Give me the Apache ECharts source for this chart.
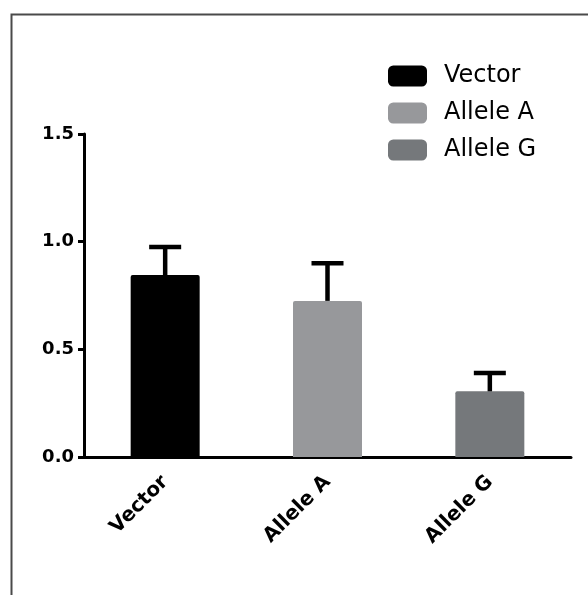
<!DOCTYPE html>
<html>
<head>
<meta charset="utf-8">
<script src="https://cdn.jsdelivr.net/npm/echarts@6/dist/echarts.min.js"></script>
<style>
html,body{margin:0;padding:0;background:#fff;}
#chart{width:588px;height:595px;}
</style>
</head>
<body>
<div id="chart"></div>
<script>
const categories = ['Vector', 'Allele A', 'Allele G'];
const seriesNames = ['Vector', 'Allele A', 'Allele G'];
const means = [0.845, 0.725, 0.305];
const errors = [0.13, 0.175, 0.085];
const yTicks = [0, 0.5, 1.0, 1.5];
const colors = ['#000000', '#97989b', '#75787b'];

const FONT = '"DejaVu Sans", sans-serif';

const chart = echarts.init(document.getElementById('chart'), null, {renderer: 'canvas'});

const barSeries = seriesNames.map((name, i) => ({
  name: name,
  type: 'bar',
  data: categories.map((c, j) => (j === i ? means[j] : '-')),
  barWidth: 69,
  barGap: '-100%',
  itemStyle: { color: colors[i], borderRadius: [2, 2, 0, 0] },
  z: 2
}));

const errSeries = {
  type: 'custom',
  name: 'err',
  data: categories.map((c, j) => [j, means[j], means[j] + errors[j]]),
  renderItem: function (params, api) {
    const x = api.value(0);
    const base = api.coord([x, api.value(1)]);
    const top = api.coord([x, api.value(2)]);
    const half = 16;
    return {
      type: 'group',
      children: [
        { type: 'line', shape: { x1: base[0], y1: base[1], x2: top[0], y2: top[1] },
          style: { stroke: '#000', lineWidth: 4.5 } },
        { type: 'line', shape: { x1: top[0] - half, y1: top[1], x2: top[0] + half, y2: top[1] },
          style: { stroke: '#000', lineWidth: 4.5 } }
      ]
    };
  },
  z: 3
};

const option = {
  animation: false,
  backgroundColor: '#fff',
  grid: { left: 84, right: 17, top: 134, bottom: 138, containLabel: false },
  legend: {
    orient: 'vertical',
    left: 388,
    top: 64,
    padding: 0,
    itemWidth: 39,
    itemHeight: 21,
    itemGap: 13,
    icon: 'roundRect',
    data: seriesNames,
    textStyle: { fontSize: 24, lineHeight: 21, color: '#000', fontFamily: FONT, padding: [0, 0, 0, 12] }
  },
  xAxis: {
    type: 'category',
    data: categories,
    axisLine: { lineStyle: { color: '#000', width: 3 } },
    axisTick: { alignWithLabel: true, length: 7, lineStyle: { color: '#000', width: 3 } },
    axisLabel: { rotate: 45, fontSize: 20, fontWeight: 'bold', color: '#000', fontFamily: FONT, margin: 22 }
  },
  yAxis: {
    type: 'value',
    min: yTicks[0],
    max: yTicks[yTicks.length - 1],
    interval: 0.5,
    axisLine: { show: true, lineStyle: { color: '#000', width: 3 } },
    axisTick: { show: true, length: 6, lineStyle: { color: '#000', width: 3 } },
    splitLine: { show: false },
    axisLabel: { fontSize: 18, fontWeight: 'bold', color: '#000', fontFamily: FONT, margin: 10,
      formatter: v => v.toFixed(1) }
  },
  graphic: [{
    type: 'polyline',
    shape: { points: [[11.5, 595], [11.5, 14.5], [588, 14.5]] },
    style: { stroke: '#4a4a4a', lineWidth: 2, fill: null },
    silent: true
  }],
  series: barSeries.concat([errSeries])
};

chart.setOption(option);
</script>
</body>
</html>
